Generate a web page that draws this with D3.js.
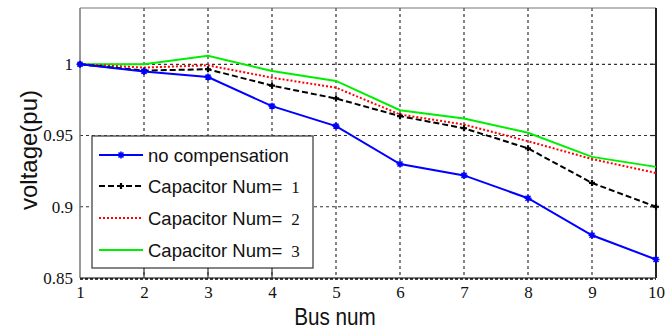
<!DOCTYPE html>
<html>
<head>
<meta charset="utf-8">
<script src="https://cdn.jsdelivr.net/npm/d3@7"></script>
<style>
  body { margin: 0; background: #fff; }
  svg { display: block; }
  svg text.serif, svg tspan.serif { font-family: "Liberation Serif", "Times New Roman", "DejaVu Serif", serif; }
  svg text.sans { font-family: "Liberation Sans", Arial, sans-serif; }
</style>
</head>
<body>
<svg id="chart" width="665" height="330"></svg>
<script>
// data
const buses = [1, 2, 3, 4, 5, 6, 7, 8, 9, 10];
const noComp = [1.0, 0.995, 0.991, 0.9706, 0.9566, 0.930, 0.922, 0.906, 0.880, 0.863];
const cap1 = [1.0, 0.9956, 0.9965, 0.985, 0.976, 0.9636, 0.9551, 0.941, 0.9167, 0.900];
const cap2 = [1.0, 0.9977, 0.9993, 0.9906, 0.9836, 0.9648, 0.9577, 0.946, 0.9335, 0.9237];
const cap3 = [1.0, 1.0, 1.0059, 0.9953, 0.9883, 0.9678, 0.962, 0.9519, 0.935, 0.928];
const yTicks = [0.85, 0.9, 0.95, 1];
const yTickLabels = ["0.85", "0.9", "0.95", "1"];
const legendNames = ["no compensation", "Capacitor Num= ", "Capacitor Num= ", "Capacitor Num= "];
const legendNums = ["", "1", "2", "3"];

/* */
/* Scales */
/* */
const svg = d3.select("#chart")
const pLeft = 80, pRight = 656, pTop = 8, pBottom = 278;

const x = d3.scaleLinear().domain([1, 10]).range([pLeft, pRight])
const y = d3.scaleLinear().domain([0.85, 1.0395]).range([pBottom, pTop])

const series = [
  { vals: noComp, color: "#0000ff", dash: null, width: 2, marker: "star" },
  { vals: cap1, color: "#000000", dash: "6,3", width: 2, marker: "dot" },
  { vals: cap2, color: "#ff0000", dash: "2,2", width: 2, marker: null },
  { vals: cap3, color: "#00ee00", dash: null, width: 2, marker: null }
]

/* */
// Frame and grid
/* */
svg.append("rect")
  .attr("x", pLeft).attr("y", pTop)
  .attr("width", pRight - pLeft).attr("height", pBottom - pTop)
  .attr("fill", "#fff")

const grid = svg.append("g")
grid.selectAll(".vgrid")
  .data(buses.slice(1, -1))
  .join("line")
  .attr("x1", d => x(d)).attr("x2", d => x(d))
  .attr("y1", pTop).attr("y2", pBottom)
  .attr("stroke", "#333").attr("stroke-width", 1.2)
  .attr("stroke-dasharray", "3,3")

grid.selectAll(".hgrid")
  .data(yTicks.slice(1))
  .join("line")
  .attr("x1", pLeft).attr("x2", pRight)
  .attr("y1", d => y(d)).attr("y2", d => y(d))
  .attr("stroke", "#333").attr("stroke-width", 1.2)
  .attr("stroke-dasharray", "3,3")

// borders
svg.append("line").attr("x1", pLeft).attr("x2", pRight).attr("y1", pTop).attr("y2", pTop)
  .attr("stroke", "#777").attr("stroke-width", 1)
svg.append("line").attr("x1", pLeft).attr("x2", pLeft).attr("y1", pTop).attr("y2", pBottom)
  .attr("stroke", "#777").attr("stroke-width", 1.5)
svg.append("line").attr("x1", pRight).attr("x2", pRight).attr("y1", pTop).attr("y2", pBottom)
  .attr("stroke", "#222").attr("stroke-width", 2)
svg.append("line").attr("x1", pLeft).attr("x2", pRight).attr("y1", pBottom).attr("y2", pBottom)
  .attr("stroke", "#555").attr("stroke-width", 1.5)
svg.append("line").attr("x1", pLeft).attr("x2", pRight).attr("y1", pBottom + 1).attr("y2", pBottom + 1)
  .attr("stroke", "#000").attr("stroke-width", 1.5).attr("stroke-dasharray", "3,2")

// right side ticks
svg.selectAll(".rtick")
  .data(yTicks.slice(1))
  .join("line")
  .attr("x1", pRight - 6).attr("x2", pRight)
  .attr("y1", d => y(d)).attr("y2", d => y(d))
  .attr("stroke", "#222").attr("stroke-width", 1.2)

/* */
// Axes labels
/* */
const xAxis = d3.axisBottom(x).tickValues(buses).tickFormat(d3.format("d")).tickSize(0).tickPadding(8)
const gx = svg.append("g")
  .attr("transform", `translate(0,${pBottom})`)
  .call(xAxis)
gx.select(".domain").remove()
gx.attr("font-family", null).attr("font-size", null)
gx.selectAll("text")
  .attr("class", "serif")
  .style("font-family", "'Liberation Serif', 'Times New Roman', serif")
  .style("font-size", "17px").attr("fill", "#111")

const yAxis = d3.axisLeft(y).tickValues(yTicks).tickFormat((d, i) => yTickLabels[i]).tickSize(0).tickPadding(7)
const gy = svg.append("g")
  .attr("transform", `translate(${pLeft},0)`)
  .call(yAxis)
gy.select(".domain").remove()
gy.attr("font-family", null).attr("font-size", null)
gy.selectAll("text")
  .attr("class", "serif")
  .style("font-family", "'Liberation Serif', 'Times New Roman', serif")
  .style("font-size", "17px").attr("fill", "#111")

svg.append("text")
  .attr("transform", "translate(37,150) rotate(-90)")
  .attr("text-anchor", "middle")
  .attr("class", "sans")
  .style("font-size", "24px").attr("fill", "#111")
  .text("voltage(pu)")

svg.append("text")
  .attr("transform", "translate(335,325) scale(0.9,1)")
  .attr("text-anchor", "middle")
  .attr("class", "sans")
  .style("font-size", "23px").attr("fill", "#111")
  .text("Bus num")

/* */
// Lines
/* */
const line = d3.line().x((d, i) => x(buses[i])).y(d => y(d))

const starPath = "M-3.5,0L3.5,0M0,-3.5L0,3.5M-2.5,-2.5L2.5,2.5M-2.5,2.5L2.5,-2.5"

series.slice().reverse().forEach(s => {
  svg.append("path")
    .datum(s.vals)
    .attr("d", line)
    .attr("fill", "none")
    .attr("stroke", s.color)
    .attr("stroke-width", s.width)
    .attr("stroke-dasharray", s.dash)

  if (s.marker === "star") {
    svg.append("g").selectAll("path")
      .data(s.vals)
      .join("path")
      .attr("transform", (d, i) => `translate(${x(buses[i])},${y(d)})`)
      .attr("d", starPath)
      .attr("stroke", s.color).attr("stroke-width", 1.6)
  } else if (s.marker === "dot") {
    svg.append("g").selectAll("path")
      .data(s.vals)
      .join("path")
      .attr("transform", (d, i) => `translate(${x(buses[i])},${y(d)})`)
      .attr("d", "M-3,0L3,0M0,-3L0,3")
      .attr("stroke", s.color).attr("stroke-width", 2.2)
  }
})

/* */
// Legend
/* */
const lg = svg.append("g")
lg.append("rect")
  .attr("x", 92).attr("y", 136).attr("width", 221).attr("height", 132)
  .attr("fill", "#fff").attr("stroke", "#444").attr("stroke-width", 1.3)

// short grid ticks poking up from the bottom edge
lg.selectAll(".ltick")
  .data([2, 3, 4])
  .join("line")
  .attr("x1", d => x(d)).attr("x2", d => x(d))
  .attr("y1", 268).attr("y2", 278)
  .attr("stroke", "#333").attr("stroke-width", 1.2)

const rows = [155, 186, 218, 250]
series.forEach((s, i) => {
  const yy = rows[i]
  lg.append("line")
    .attr("x1", 99).attr("x2", 143).attr("y1", yy).attr("y2", yy)
    .attr("stroke", s.color).attr("stroke-width", s.width)
    .attr("stroke-dasharray", s.dash)
  if (s.marker === "star") {
    lg.append("path").attr("transform", `translate(121,${yy})`).attr("d", starPath)
      .attr("stroke", s.color).attr("stroke-width", 1.6)
  } else if (s.marker === "dot") {
    lg.append("path").attr("transform", `translate(121,${yy})`).attr("d", "M-3,0L3,0M0,-3L0,3")
      .attr("stroke", s.color).attr("stroke-width", 2.2)
  }
  const t = lg.append("text")
    .attr("x", 148).attr("y", yy + 7)
    .attr("class", "sans")
    .style("font-size", "18.5px").attr("fill", "#111")
  t.append("tspan").text(legendNames[i])
  if (legendNums[i]) {
    t.append("tspan")
      .attr("class", "serif")
      .style("font-family", "'Liberation Serif', 'Times New Roman', serif")
      .style("font-size", "17px").attr("dx", 4)
      .text(legendNums[i])
  }
})
</script>
</body>
</html>
